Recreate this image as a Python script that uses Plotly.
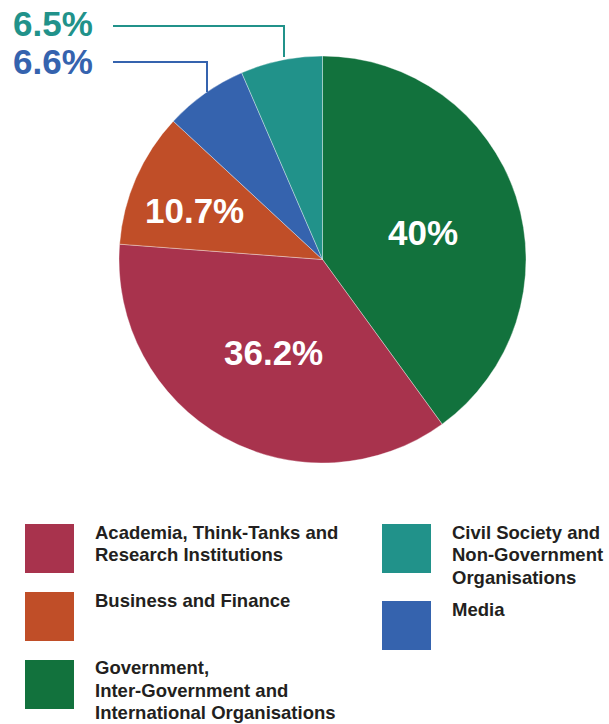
import plotly.graph_objects as go

W, H = 609, 724

# Share of respondents by sector (clockwise from 12 o'clock)
sectors = [
    "Government,<br>Inter-Government and<br>International Organisations",
    "Academia, Think-Tanks and<br>Research Institutions",
    "Business and Finance",
    "Media",
    "Civil Society and<br>Non-Government<br>Organisations",
]
shares = [40.0, 36.2, 10.7, 6.6, 6.5]
colors = ["#12723D", "#A8334D", "#C04E28", "#3563AE", "#21928A"]


def px(x):
    return x / W


def py(y):
    return 1 - y / H


def pct(v):
    return f"{v:g}%"


# Pie geometry: centre (322.5, 259.5), radius 203.5 px
cx, cy, r = 322.5, 259.5, 203.5

fig = go.Figure(
    go.Pie(
        labels=sectors,
        values=shares,
        sort=False,
        direction="clockwise",
        rotation=0,
        marker=dict(colors=colors, line=dict(color="rgba(255,255,255,0.6)", width=0.6)),
        textinfo="none",
        hoverinfo="label+percent",
        showlegend=False,
        domain=dict(x=[px(cx - r), px(cx + r)], y=[py(cy + r), py(cy - r)]),
    )
)

BIG = "Liberation Sans, Arial, sans-serif"
annotations = []
shapes = []

# Labels inside the three large slices
inside = [(0, 423, 232), (1, 273.5, 352), (2, 194, 211)]
for i, x, y in inside:
    annotations.append(dict(
        x=px(x), y=py(y), xref="paper", yref="paper",
        text=f"<b>{pct(shares[i])}</b>", showarrow=False,
        font=dict(family=BIG, size=35, color="white"),
        xanchor="center", yanchor="middle",
    ))

# Callout labels for the two small slices, with elbow leader lines
callouts = [(4, 23, 26, 284, 57), (3, 61.5, 62, 207, 92)]
for i, ty, ly, vx, vy in callouts:
    annotations.append(dict(
        x=px(11), y=py(ty), xref="paper", yref="paper",
        text=f"<b>{pct(shares[i])}</b>", showarrow=False,
        font=dict(family=BIG, size=35, color=colors[i]),
        xanchor="left", yanchor="middle",
    ))
    shapes.append(dict(
        type="path", xref="paper", yref="paper",
        path=f"M {px(113)},{py(ly)} L {px(vx)},{py(ly)} L {px(vx)},{py(vy)}",
        line=dict(color=colors[i], width=2),
    ))

# Custom two-column legend: swatch plus one annotation per text line
LEG_SIZE = 18.5
LINE_GAP = 22.4
legend_items = [
    (1, 25, 524, 15.0),
    (2, 25, 592, 15.0),
    (0, 25, 660, 14.6),
    (4, 382, 524, 15.0),
    (3, 382, 601, 15.6),
]
for i, x0, y0, base in legend_items:
    shapes.append(dict(
        type="rect", xref="paper", yref="paper",
        x0=px(x0), x1=px(x0 + 49), y0=py(y0), y1=py(y0 + 49),
        fillcolor=colors[i], line=dict(width=0),
    ))
    for k, line in enumerate(sectors[i].split("<br>")):
        baseline = y0 + base + LINE_GAP * k
        annotations.append(dict(
            x=px(x0 + 68), y=py(baseline - 0.358 * LEG_SIZE), xref="paper", yref="paper",
            text=f"<b>{line}</b>", showarrow=False, align="left",
            font=dict(family=BIG, size=LEG_SIZE, color="#231F20"),
            xanchor="left", yanchor="middle",
        ))

fig.update_layout(
    width=W, height=H,
    margin=dict(l=0, r=0, t=0, b=0),
    paper_bgcolor="white", plot_bgcolor="white",
    annotations=annotations, shapes=shapes,
)

fig.write_html("out.html")
